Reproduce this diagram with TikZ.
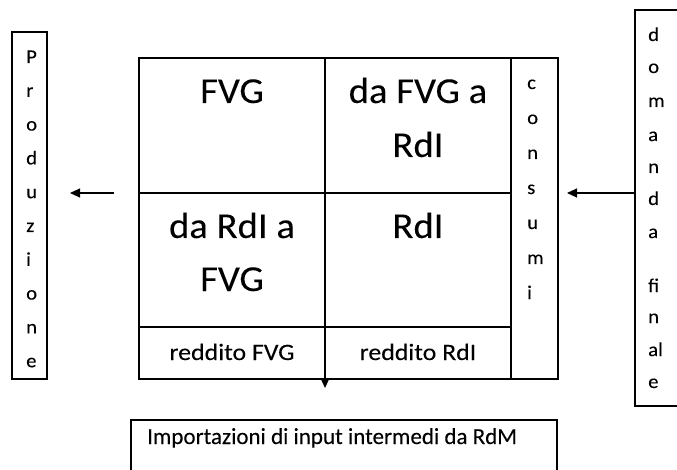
\documentclass[tikz,border=0pt]{standalone}
\usepackage{fontspec}
\setmainfont{Carlito}[FakeBold=0.08]
\newfontfamily\bigwide[FakeStretch=1.06,FakeBold=0.08]{Carlito}
\newfontfamily\smallwide[FakeStretch=1.1,FakeBold=0.08]{Carlito}
\newfontfamily\letterwide[FakeStretch=1.06,FakeBold=0.08]{Carlito}
\usetikzlibrary{arrows.meta}
\begin{document}
\begin{tikzpicture}[x=1pt,y=-1pt,
  box/.style={draw, line width=1.1pt, inner sep=0pt, outer sep=0pt, anchor=north west},
  big/.style={font=\bigwide\fontsize{36.5}{40}\selectfont, anchor=base, inner sep=0pt},
  small/.style={font=\smallwide\fontsize{23.5}{26}\selectfont, anchor=base, inner sep=0pt},
  letter/.style={font=\letterwide\fontsize{19.5}{22}\selectfont, anchor=base west, inner sep=0pt},
  arr/.style={line width=1.1pt, -{Triangle[length=10pt,width=9pt]}}]
\useasboundingbox (0,0) rectangle (677,470);
\clip (0,0) rectangle (677,470);

% side columns
\node[box, minimum width=35pt, minimum height=347pt] (prod) at (12,32) {};
\node[box, minimum width=60pt, minimum height=396pt] (dom) at (635,10) {};

% main table
\node[box, minimum width=186pt, minimum height=135pt] (c11) at (139,58) {};
\node[box, minimum width=186pt, minimum height=135pt] (c12) at (325,58) {};
\node[box, minimum width=186pt, minimum height=134pt] (c21) at (139,193) {};
\node[box, minimum width=186pt, minimum height=134pt] (c22) at (325,193) {};
\node[box, minimum width=186pt, minimum height=52pt] (red1) at (139,327) {};
\node[box, minimum width=186pt, minimum height=52pt] (red2) at (325,327) {};
\node[box, minimum width=47pt, minimum height=321pt] (cons) at (511,58) {};

% imports box
\node[box, minimum width=426pt, minimum height=80pt] (imp) at (131,420) {};

% cell texts
\node[big] (t11) at (232,103) {FVG};
\node[big] (t12a) at (418,103) {da FVG a};
\node[big] (t12b) at (418,157) {RdI};
\node[big] (t21a) at (232,238) {da RdI a};
\node[big] (t21b) at (232,291) {FVG};
\node[big] (t22) at (418,238) {RdI};
\node[small] (r1) at (232,360) {reddito FVG};
\node[small] (r2) at (418,360) {reddito RdI};
\node[font=\fontsize{23}{26}\selectfont, anchor=base west, inner sep=0pt] (ti) at (147,444) {Importazioni di input intermedi da RdM};

% vertical words
\foreach \ch [count=\i from 0] in {P,r,o,d,u,z,i,o,n,e}
  \node[letter] (p\i) at (26,63+33.8*\i) {\ch};
\foreach \ch [count=\i from 0] in {c,o,n,s,u,m,i}
  \node[letter] (k\i) at (527,89+35*\i) {\ch};
\foreach \ch/\yy [count=\i from 0] in {d/41,o/73,m/107,a/141,n/173,d/205,a/238,fi/292,n/323,al/356,e/388}
  \node[letter] (m\i) at (648,\yy) {\ch};

% arrows
\coordinate (lstart) at (114,193);
\coordinate (lend) at (70,193);
\coordinate (rend) at (567,193);
\coordinate (dend) at (325,388);
\draw[arr] (lstart) -- (lend);
\draw[arr] (dom.west |- rend) -- (rend);
\draw[arr] (red1.south east) -- (dend);
\end{tikzpicture}
\end{document}
